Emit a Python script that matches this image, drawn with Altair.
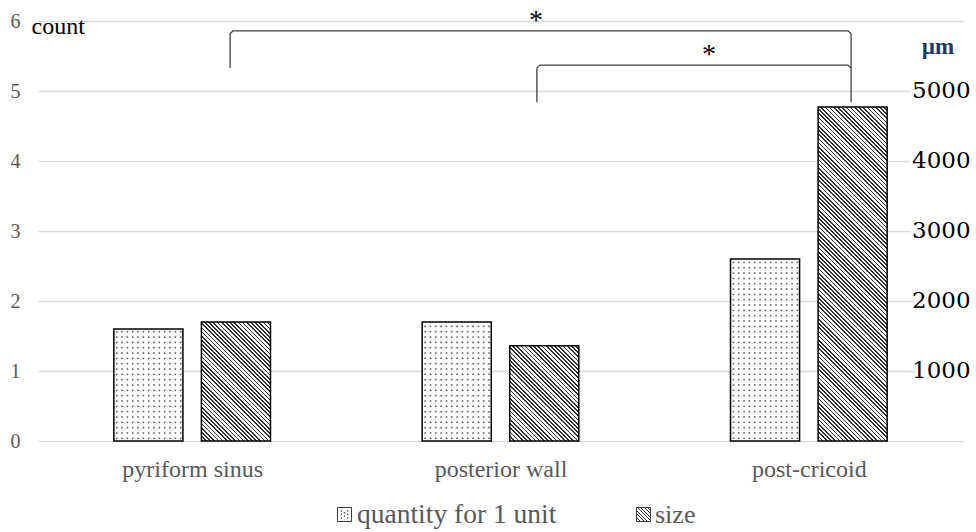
import json
import altair as alt
import pandas as pd

# ---------------- data ----------------
categories = ["pyriform sinus", "posterior wall", "post-cricoid"]
series_names = ["quantity for 1 unit", "size"]
quantity = [1.6, 1.7, 2.6]            # count (left axis)
size_um = [1700, 1360, 4770]          # µm (right axis)
left_ticks = [0, 1, 2, 3, 4, 5, 6]
right_ticks = [1000, 2000, 3000, 4000, 5000]
# significance brackets, in category / count units
bracket_left = [0.123, 1.118]
bracket_right = [2.137, 2.137]
bracket_top = [5.86, 5.37]
bracket_low_left = [5.33, 4.84]
bracket_low_right = [5.33, 4.84]
star_x = [1.115, 1.676]
star_y = [5.885, 5.40]

# ---------------- layout / style ----------------
W, H = 925, 420
PAD = {"left": 38, "top": 21, "right": 13, "bottom": 91}
XPX = W / 3.0
YPX = H / 6.0
OFF, HALF = 0.142, 0.112
SERIF = "Liberation Serif"
GRAY = "#595959"
GRID = "#d9d9d9"
xs = alt.Scale(domain=[-0.5, 2.5], nice=False, zero=False)
ys = alt.Scale(domain=[0, 6], nice=False, zero=True)


def hatch(wpx, hpx, pitch=4.2, dark="#303030", light="#ffffff", duty=0.4):
    t = (wpx + hpx) / (wpx ** 2 + hpx ** 2)
    n = max(1, int(round((wpx + hpx) / pitch)))
    stops = []
    for k in range(n):
        a, b, c = k / n, (k + duty) / n, (k + 1) / n
        stops += [
            {"offset": round(a, 6), "color": dark},
            {"offset": round(b, 6), "color": dark},
            {"offset": round(b, 6), "color": light},
            {"offset": round(c, 6), "color": light},
        ]
    return {"gradient": "linear", "x1": 0, "y1": 1,
            "x2": t * wpx, "y2": 1 - t * hpx, "stops": stops}


rows = []
for i, c in enumerate(categories):
    rows.append(dict(cat=c, series=series_names[0], x=i - OFF - HALF, x2=i - OFF + HALF, v=quantity[i]))
    rows.append(dict(cat=c, series=series_names[1], x=i + OFF - HALF, x2=i + OFF + HALF, v=size_um[i] / 1000.0))
bars = pd.DataFrame(rows)

# dot texture for the "quantity" bars
DOT = 5.33
dots = []
for i, c in enumerate(categories):
    hpx = quantity[i] * YPX
    x0 = i - OFF - HALF
    wpx = 2 * HALF * XPX
    ncol = int((wpx - 4) / DOT) + 1
    r = 0
    while 2.7 + r * DOT < hpx - 2:
        for k in range(ncol):
            dots.append(dict(x=x0 + (2.9 + k * DOT) / XPX, y=(2.7 + r * DOT) / YPX))
        r += 1
dots = pd.DataFrame(dots)

# bracket polylines
RX, RY = 3.0 / XPX, 3.0 / YPX
br = []
for b in range(len(bracket_left)):
    xl, xr, top = bracket_left[b], bracket_right[b], bracket_top[b]
    pts = [(xl, bracket_low_left[b]), (xl, top - RY), (xl + RX, top),
           (xr - RX, top), (xr, top - RY), (xr, bracket_low_right[b])]
    for o, (px, py) in enumerate(pts):
        br.append(dict(b=b, o=o, x=px, y=py))
br = pd.DataFrame(br)

stars = pd.DataFrame({"x": star_x, "y": star_y})
rt = pd.DataFrame({"v": right_ticks})
one = pd.DataFrame({"a": [0]})

label_expr = json.dumps(categories) + "[datum.value]"

x_axis = alt.Axis(values=[0, 1, 2], labelExpr=label_expr, title=None, grid=False,
                  ticks=False, domain=False, labelFont=SERIF, labelFontSize=24,
                  labelColor=GRAY, labelBaseline="alphabetic", labelPadding=35,
                  labelFlush=False, labelOverlap=False)
y_axis = alt.Axis(values=left_ticks, title="count", titleAngle=0, titleX=-7, titleY=12,
                  titleAlign="left", titleBaseline="alphabetic", titleFont=SERIF,
                  titleFontSize=24, titleFontWeight="normal", titleColor="black",
                  grid=True, gridColor=GRID, gridWidth=1.3, ticks=False, domain=False,
                  labelFont=SERIF, labelFontSize=20, labelColor=GRAY, labelPadding=18,
                  format="d")


def X(field):
    return alt.X(field, scale=xs, axis=x_axis)


def Y(field):
    return alt.Y(field, scale=ys, axis=y_axis)


qbars = alt.Chart(bars).transform_filter(
    alt.datum.series == series_names[0]
).mark_rect(fill="white", stroke="black", strokeWidth=1.5).encode(
    x=X("x:Q"), x2="x2:Q", y=Y("v:Q"), y2=alt.datum(0),
)

dot_layer = alt.Chart(dots).mark_square(size=2.4, color="#5a5a5a", opacity=1).encode(
    x=X("x:Q"), y=Y("y:Q")
)

hatch_layers = []
for i, c in enumerate(categories):
    wpx = 2 * HALF * XPX
    hpx = size_um[i] / 1000.0 * YPX
    hatch_layers.append(
        alt.Chart(bars).transform_filter(
            (alt.datum.series == series_names[1]) & (alt.datum.cat == c)
        ).mark_rect(fill=hatch(wpx, hpx), stroke="black", strokeWidth=1.5).encode(
            x=X("x:Q"), x2="x2:Q", y=Y("v:Q"), y2=alt.datum(0),
        )
    )

bracket_layer = alt.Chart(br).mark_line(color="#404040", strokeWidth=1.3,
                                        strokeJoin="round").encode(
    x=X("x:Q"), y=Y("y:Q"), detail="b:N", order="o:Q",
)

star_layer = alt.Chart(stars).mark_text(text="*", font=SERIF, fontSize=28, color="black",
                                        align="center", baseline="alphabetic").encode(
    x=X("x:Q"), y=Y("y:Q")
)

rbase = alt.Chart(rt).transform_calculate(yv="datum.v / 1000")
r_halo = rbase.mark_text(font="DejaVu Serif", fontSize=23, align="left", baseline="middle",
                         dy=0, color="white", stroke="white", strokeWidth=7).encode(
    x=alt.value(W - 51), y=Y("yv:Q"), text="v:N"
)
r_text = rbase.mark_text(font="DejaVu Serif", fontSize=23, align="left", baseline="middle",
                         dy=0, color="black").encode(
    x=alt.value(W - 51), y=Y("yv:Q"), text="v:N"
)

um_title = alt.Chart(one).mark_text(text="µm", font=SERIF, fontSize=23, fontWeight="bold",
                                    color="#1f3864", align="center", baseline="alphabetic").encode(
    x=alt.value(900), y=alt.value(33)
)

# legend
LEG_Y = 493.5
leg_sym1 = alt.Chart(one).mark_square(size=196, fill="white", stroke="#404040",
                                      strokeWidth=1, opacity=1).encode(
    x=alt.value(306.5), y=alt.value(LEG_Y))
dots_path = " ".join(
    f"M{px - 0.09},{py - 0.09}h0.18v0.18h-0.18z"
    for px, py in [(-0.45, -0.5), (0.45, -0.5), (-0.45, 0.0), (0.45, 0.0), (-0.45, 0.5), (0.45, 0.5), (0, -0.25), (0, 0.25)]
)
leg_dots = alt.Chart(one).mark_point(shape=dots_path, size=196, fill="#555555",
                                     filled=True, opacity=1, strokeWidth=0).encode(
    x=alt.value(306.5), y=alt.value(LEG_Y))
leg_sym2 = alt.Chart(one).mark_square(size=196, fill=hatch(14, 14, pitch=3.5),
                                      stroke="#404040", strokeWidth=1, opacity=1).encode(
    x=alt.value(605.5), y=alt.value(LEG_Y))
leg_t1 = alt.Chart(one).mark_text(text=series_names[0], font=SERIF, fontSize=27.5, color=GRAY,
                                  align="left", baseline="alphabetic").encode(
    x=alt.value(319), y=alt.value(LEG_Y + 8))
leg_t2 = alt.Chart(one).mark_text(text=series_names[1], font=SERIF, fontSize=26, color=GRAY,
                                  align="left", baseline="alphabetic").encode(
    x=alt.value(617), y=alt.value(LEG_Y + 8))

chart = alt.layer(
    qbars, dot_layer, *hatch_layers, bracket_layer, star_layer, r_halo, r_text, um_title,
    leg_sym1, leg_dots, leg_sym2, leg_t1, leg_t2,
).properties(
    width=W, height=H, padding=PAD, autosize=alt.AutoSizeParams(type="none"),
    background="white",
).configure_view(stroke=None)

chart.save("out.html", embed_options={"renderer": "svg", "actions": False})
